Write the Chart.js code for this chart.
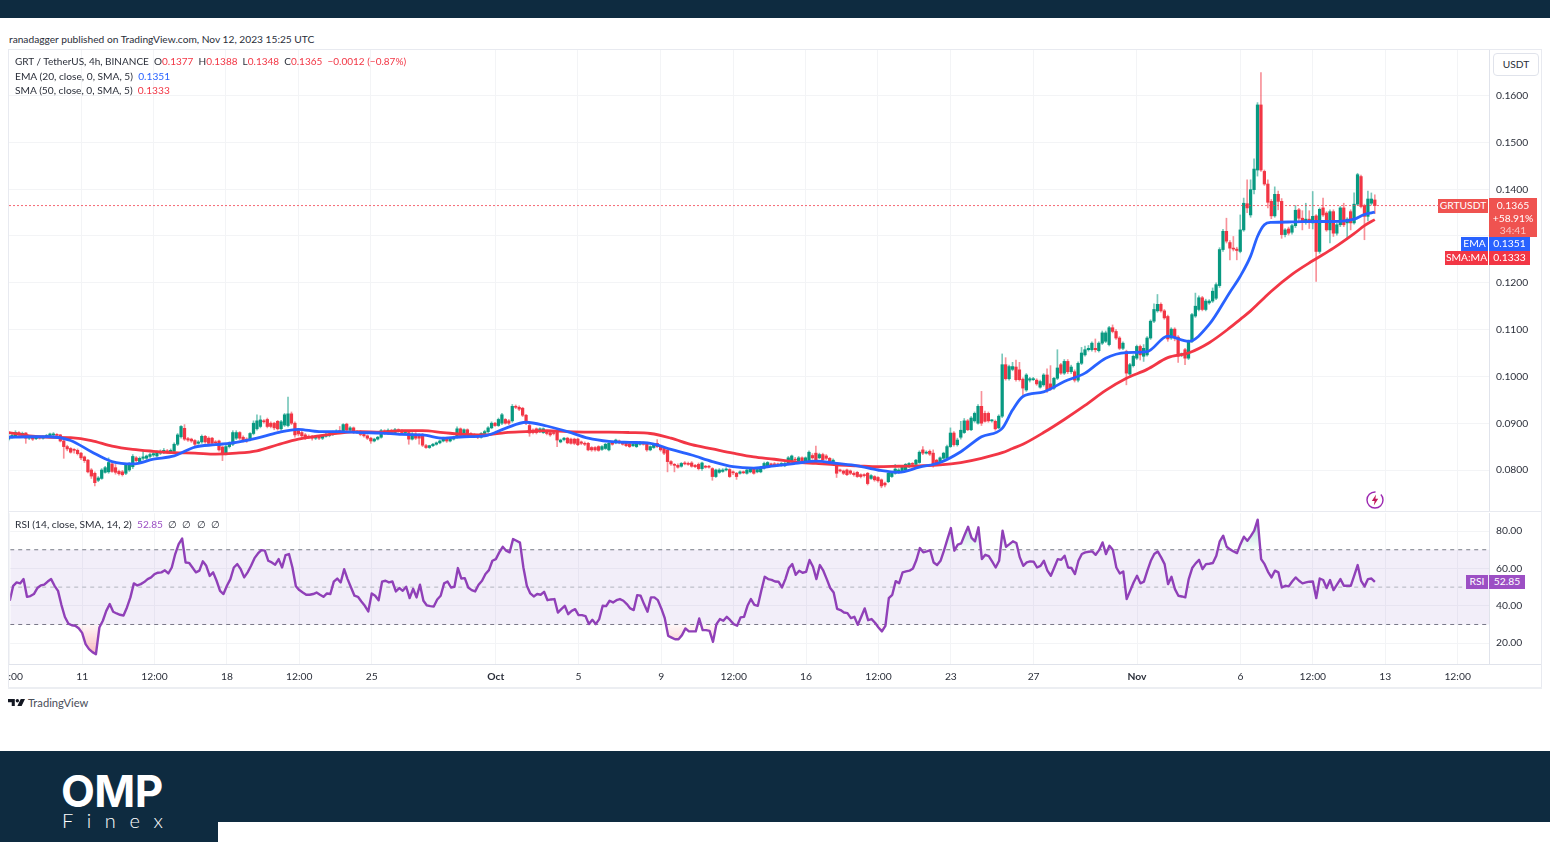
<!DOCTYPE html>
<html>
<head>
<meta charset="utf-8">
<title>GRT / TetherUS 4h</title>
<script src="https://cdn.jsdelivr.net/npm/chart.js@4"></script>
<style>
  html, body { margin: 0; padding: 0; background: #fff; }
  body { width: 1550px; height: 842px; overflow: hidden; position: relative; font-family: Lato, sans-serif; font-size: 10.2px; color: #2a2e39; }
  .abs { position: absolute; white-space: nowrap; }
  canvas { position: absolute; }
  .up { color: #f23645; }
  .tag { position: absolute; color: #fff; font-size: 10.3px; line-height: 13.5px; text-align: center; }
</style>
</head>
<body>
<div class="abs" style="left:0;top:0;width:1550px;height:18px;background:#0e2b40"></div>
<div class="abs" style="left:9px;top:32px;line-height:14px">ranadagger published on TradingView.com, Nov 12, 2023 15:25 UTC</div>

<div class="abs" style="left:8px;top:49px;width:1532px;height:638px;border:1px solid #e8eaf0"></div>
<div class="abs" style="left:9px;top:511px;width:1532px;height:1px;background:#e8eaf0"></div>
<div class="abs" style="left:9px;top:664px;width:1532px;height:1px;background:#e0e3eb"></div>
<div class="abs" style="left:8px;top:687px;width:1534px;height:2px;background:#eceef2"></div>

<canvas id="priceChart" width="1532" height="461" style="left:9px;top:50px"></canvas>
<canvas id="rsiChart" width="1532" height="176" style="left:9px;top:512px"></canvas>

<div class="abs" style="left:15px;top:54px;line-height:14px;font-size:10px">GRT / TetherUS, 4h, BINANCE &nbsp;O<span class="up">0.1377</span> &nbsp;H<span class="up">0.1388</span> &nbsp;L<span class="up">0.1348</span> &nbsp;C<span class="up">0.1365</span> &nbsp;<span class="up">−0.0012 (−0.87%)</span></div>
<div class="abs" style="left:15px;top:69px;line-height:14px">EMA (20, close, 0, SMA, 5) &nbsp;<span style="color:#2962ff">0.1351</span></div>
<div class="abs" style="left:15px;top:83px;line-height:14px">SMA (50, close, 0, SMA, 5) &nbsp;<span class="up">0.1333</span></div>
<div class="abs" style="left:15px;top:517px;line-height:14px">RSI (14, close, SMA, 14, 2) &nbsp;<span style="color:#9c4fc4">52.85</span> &nbsp;<span>∅ &nbsp;∅ &nbsp;∅ &nbsp;∅</span></div>

<div class="abs" style="left:1493px;top:53px;width:44px;height:21px;border:1px solid #e0e3eb;border-radius:4px;line-height:21px;text-align:center;background:#fff">USDT</div>

<div class="tag" style="left:1438px;top:199px;width:50px;background:#ef5350">GRTUSDT</div>
<div class="tag" style="left:1489px;top:198px;width:48px;height:39px;background:#ef5350;line-height:12.5px;padding-top:1px;box-sizing:border-box">0.1365<br>+58.91%<br><span style="color:#f9c4c4">34:41</span></div>
<div class="tag" style="left:1461px;top:237px;width:27px;background:#2962ff">EMA</div>
<div class="tag" style="left:1489px;top:237px;width:41px;background:#2962ff">0.1351</div>
<div class="tag" style="left:1445px;top:251px;width:43px;background:#f23645">SMA:MA</div>
<div class="tag" style="left:1489px;top:251px;width:41px;background:#f23645">0.1333</div>
<div class="tag" style="left:1466px;top:575px;width:22px;background:#9c4fc4">RSI</div>
<div class="tag" style="left:1489px;top:575px;width:36px;background:#9c4fc4">52.85</div>

<svg class="abs" style="left:1365px;top:490px" width="20" height="20" viewBox="0 0 20 20">
  <circle cx="10" cy="10" r="8" fill="none" stroke="#9c27b0" stroke-width="1.4" stroke-dasharray="38 6"/>
  <path d="M11 4.5 L6.8 11 H9.6 L8.8 15.5 L13.2 8.8 H10.4 Z" fill="#c2185b"/>
</svg>

<svg class="abs" style="left:8px;top:699px" width="17" height="7" viewBox="0 0 20 8">
  <path d="M0 0h8v8H4.4V3.6H0z M15 0h5l-4 8h-5z" fill="#131722"/><circle cx="11" cy="2" r="2" fill="#131722"/>
</svg>
<div class="abs" style="left:28px;top:696px;font-size:11.2px;line-height:14px;color:#4a4e59">TradingView</div>

<div class="abs" style="left:0;top:751px;width:1550px;height:71px;background:#0e2b40"></div>
<div class="abs" style="left:0;top:822px;width:218px;height:20px;background:#0e2b40"></div>
<div class="abs" style="left:61px;top:763px;font-size:44px;line-height:56px;font-weight:700;color:#fff;font-family:Inter,sans-serif;letter-spacing:-0.6px">OMP</div>
<div class="abs" style="left:62px;top:807px;font-size:20px;line-height:26px;font-weight:300;color:#fff;font-family:Lato,sans-serif;letter-spacing:13.6px">Finex</div>

<script>
// prices are in 0.0001 USDT, one entry per 4h bar starting Sep 7 12:00
const opens = [
  866,870,873,880,876,879,868,868,867,869,
  868,871,873,875,876,875,862,850,846,843,
  842,836,828,821,800,793,778,782,795,796,
  813,805,797,796,793,800,807,826,818,825,
  825,829,832,830,836,838,841,838,840,855,
  871,889,867,866,863,857,860,872,868,868,
  860,862,849,835,850,855,868,880,870,866,
  865,878,888,893,905,908,900,900,904,888,
  896,895,920,900,884,880,875,872,870,868,
  870,868,872,874,877,880,883,882,898,885,
  890,880,882,876,873,868,862,866,870,884,
  878,885,880,886,884,880,880,866,877,875,
  875,852,848,852,855,858,862,868,862,866,
  870,888,874,886,878,875,872,870,878,882,
  890,900,895,900,908,905,905,936,934,932,
  917,895,885,888,882,880,881,880,880,882,
  860,865,868,866,866,866,860,857,857,848,
  848,850,844,846,843,858,858,862,858,858,
  856,852,850,855,858,857,843,848,857,850,
  848,843,818,812,810,808,815,814,815,810,
  812,803,808,808,803,786,795,797,800,801,
  796,793,793,796,793,796,802,796,796,804,
  808,813,813,813,810,809,814,820,823,820,
  826,818,820,831,836,826,833,830,825,816,
  814,800,798,800,798,793,795,790,790,793,
  782,786,784,779,772,775,786,793,795,798,
  800,807,814,812,816,843,836,840,836,821,
  818,825,825,850,879,854,870,880,905,886,
  905,900,936,921,921,905,904,890,915,1025,
  995,1015,1020,1014,994,971,992,993,992,977,
  982,1003,984,975,996,1025,1007,1032,1010,1010,
  992,1028,1046,1057,1057,1060,1055,1071,1075,1068,
  1104,1096,1082,1060,1053,1005,1023,1039,1064,1043,
  1046,1082,1118,1140,1154,1140,1128,1082,1101,1084,
  1046,1057,1039,1075,1129,1143,1168,1143,1157,1161,
  1167,1194,1271,1310,1286,1274,1272,1267,1313,1369,
  1345,1399,1441,1580,1438,1411,1374,1343,1389,1374,
  1303,1315,1308,1322,1356,1338,1329,1336,1328,1343,
  1267,1360,1349,1313,1352,1306,1324,1360,1328,1352,
  1328,1368,1427,1365,1342,1370,1377
];
const closes = [
  872,874,880,876,878,868,868,866,869,868,
  871,874,877,877,874,862,850,845,838,842,
  835,826,820,796,787,773,783,800,805,816,
  797,795,792,790,811,812,829,820,825,828,
  830,833,835,838,838,842,839,842,855,875,
  893,866,864,862,855,860,872,860,857,857,
  858,843,833,850,857,880,880,868,863,862,
  878,900,905,907,903,893,893,890,888,903,
  918,920,900,875,877,873,868,870,868,870,
  868,872,876,874,880,883,882,897,885,890,
  880,882,876,873,868,862,866,870,884,878,
  885,880,886,884,880,883,866,877,868,868,
  853,848,852,855,858,862,868,862,866,870,
  888,874,886,878,875,872,870,878,882,890,
  900,895,908,918,900,900,936,934,930,917,
  900,879,880,880,888,888,878,875,878,864,
  864,868,858,857,857,854,857,855,843,843,
  843,842,850,855,857,855,864,858,855,852,
  850,855,858,858,855,843,850,855,850,843,
  836,818,813,810,806,814,813,812,808,807,
  803,815,806,806,786,800,800,800,802,786,
  794,786,796,794,800,803,793,801,806,814,
  816,811,811,810,814,814,826,830,821,826,
  818,826,838,826,820,833,822,825,818,821,
  793,798,793,790,793,790,786,786,788,771,
  788,779,777,766,768,793,793,802,800,807,
  812,814,812,821,838,836,838,834,812,814,
  826,836,850,879,854,864,885,905,886,911,
  921,936,900,904,905,905,888,915,1025,995,
  1021,1021,993,993,975,1003,995,995,984,989,
  1003,971,975,996,1018,1007,1032,1010,1020,992,
  1028,1050,1057,1060,1071,1057,1071,1093,1093,1104,
  1096,1082,1060,1071,1007,1025,1043,1064,1046,1060,
  1082,1118,1143,1154,1140,1125,1080,1101,1082,1043,
  1046,1039,1075,1132,1150,1168,1143,1161,1161,1182,
  1196,1271,1310,1289,1274,1272,1269,1313,1370,1360,
  1399,1443,1580,1441,1411,1372,1343,1389,1374,1303,
  1313,1306,1322,1355,1338,1329,1336,1331,1342,1267,
  1357,1345,1313,1352,1306,1324,1360,1324,1336,1328,
  1368,1431,1363,1342,1379,1379,1365
];
const highs = [
  876,878,884,882,881,880,871,870,871,871,
  873,876,879,880,878,876,864,853,848,846,
  845,838,830,823,803,796,786,803,808,826,
  816,812,800,799,814,816,833,829,828,840,
  832,836,838,841,843,846,844,845,858,878,
  895,897,870,868,865,863,875,874,871,870,
  863,864,851,853,860,884,884,882,873,869,
  880,905,918,916,908,911,903,902,906,906,
  921,956,924,903,887,884,878,875,874,874,
  873,875,879,878,883,886,893,899,900,893,
  892,884,884,878,875,870,868,872,887,886,
  888,887,889,888,886,885,884,880,880,878,
  878,855,853,857,860,864,870,870,869,872,
  892,890,888,888,880,878,875,880,885,893,
  903,902,911,921,910,908,940,939,937,934,
  919,902,888,890,890,890,884,883,883,884,
  866,870,870,868,868,868,862,860,859,850,
  850,852,852,857,859,860,866,864,860,860,
  858,857,860,861,860,859,852,857,865,852,
  850,845,820,814,813,816,818,817,818,812,
  815,817,810,810,805,802,803,803,805,803,
  798,795,798,798,802,805,804,803,808,817,
  818,815,816,815,816,817,829,832,827,829,
  828,828,841,835,851,836,836,833,827,824,
  816,802,800,802,800,796,797,792,792,795,
  790,788,786,781,774,796,796,812,803,809,
  814,816,816,823,841,850,841,843,843,823,
  828,838,853,890,882,868,904,910,908,914,
  924,940,968,926,924,908,907,918,1048,1040,
  1024,1030,1035,1030,997,1006,998,998,995,992,
  1006,1016,1023,998,1057,1028,1036,1036,1024,1014,
  1031,1062,1065,1066,1074,1080,1074,1097,1097,1107,
  1110,1100,1085,1074,1056,1028,1046,1067,1067,1068,
  1085,1121,1155,1175,1157,1143,1131,1104,1104,1087,
  1050,1060,1078,1135,1178,1172,1171,1165,1164,1189,
  1200,1275,1314,1338,1290,1299,1276,1345,1381,1420,
  1420,1465,1585,1649,1441,1420,1378,1405,1396,1380,
  1316,1319,1325,1365,1359,1354,1370,1354,1395,1346,
  1360,1381,1352,1356,1356,1327,1363,1370,1339,1356,
  1392,1434,1430,1368,1396,1392,1388
];
const lows = [
  862,868,871,874,874,857,865,863,865,866,
  866,869,871,873,872,860,825,841,836,836,
  832,822,816,794,782,766,775,780,793,793,
  795,791,789,787,790,797,803,817,815,822,
  822,826,829,828,833,835,836,835,838,852,
  868,863,861,859,852,855,857,857,854,854,
  855,840,820,832,847,852,865,865,860,859,
  862,875,885,890,900,890,890,886,885,885,
  893,892,897,870,873,869,865,867,864,865,
  865,865,870,871,874,877,879,879,882,882,
  878,878,873,870,865,857,860,864,868,876,
  876,878,878,881,878,878,855,864,865,855,
  850,846,846,850,853,856,860,859,860,864,
  868,872,872,876,873,870,867,868,876,880,
  888,893,893,897,898,897,902,931,927,914,
  897,872,877,877,880,878,875,872,875,850,
  858,862,856,855,854,852,854,852,841,840,
  840,840,842,844,841,853,856,856,853,850,
  848,850,848,853,853,840,841,846,848,840,
  833,796,810,796,804,806,811,810,806,805,
  800,799,804,804,778,784,793,795,798,784,
  790,780,791,792,791,794,791,794,794,802,
  806,809,809,808,808,807,812,817,818,818,
  816,816,818,823,817,824,820,822,816,814,
  784,796,790,788,790,787,784,783,785,768,
  780,776,774,762,764,773,784,791,793,796,
  798,805,810,810,814,833,834,831,806,812,
  816,823,823,848,851,851,866,878,884,884,
  902,898,895,902,902,902,885,888,912,992,
  992,1012,990,990,960,968,988,991,981,975,
  979,966,970,972,993,1004,1004,1006,1006,988,
  988,1025,1043,1054,1054,1052,1052,1068,1072,1065,
  1093,1079,1057,1057,982,1002,1020,1036,1035,1032,
  1043,1079,1115,1137,1137,1122,1075,1079,1076,1030,
  1042,1025,1036,1072,1126,1140,1140,1140,1154,1158,
  1164,1190,1267,1285,1249,1268,1249,1264,1310,1350,
  1340,1390,1428,1438,1408,1360,1337,1340,1356,1295,
  1298,1302,1304,1318,1330,1313,1325,1316,1315,1203,
  1263,1342,1310,1285,1299,1302,1320,1320,1292,1313,
  1325,1365,1360,1292,1332,1366,1348
];

// moving averages read at these bars
const maBars = [
  0,6,12,18,24,30,36,42,48,54,60,66,72,78,84,90,96,102,108,114,120,126,132,138,144,
  150,156,162,168,174,180,186,192,198,204,210,216,222,228,234,240,246,252,258,264,270,276,282,288,
  291,294,300,306,312,318,324,330,336,342,348,354,357,360,362,364,366,372,378,384,390,393,396
];
const emaValues = [
  870,871,871,863,839,818,813,823,830,849,854,859,868,880,887,882,882,880,879,876,875,868,871,873,889,
  902,894,882,868,861,859,857,844,832,818,807,804,809,814,819,814,809,800,795,806,816,839,871,889,
  928,957,967,989,1007,1039,1051,1053,1086,1075,1111,1180,1214,1257,1299,1324,1329,1330,1331,1331,1336,1346,1351
];
const smaValues = [
  880,873,870,869,863,851,844,840,837,836,834,836,841,854,866,873,879,882,881,884,884,880,876,875,880,
  882,884,882,881,881,880,878,868,854,845,836,828,823,817,814,811,809,807,808,809,811,816,825,837,
  846,855,880,908,938,970,996,1015,1040,1050,1072,1104,1122,1140,1154,1168,1182,1218,1247,1274,1305,1322,1335
];
const lastPrice = 1365;

// one RSI reading per bar
const rsiValues = [
  42.7,50.7,52.5,52,54.3,44.8,45.2,46.3,49.5,50.9,
  51.3,53,54.3,50.7,48,40.4,34,30.5,29.6,29.3,
  28,25.5,19.5,16.8,15.2,14.1,28.4,32,37.3,40.9,
  36.8,35.9,35.2,34.8,39.1,44.5,52,50.9,51.6,52.7,
  54.3,55.2,57,57.7,57.9,59,57.3,60.5,67.7,73,
  76,63.2,63,60.5,57.9,58.8,63.8,61.4,56,57.9,
  53.4,48,46.3,50.7,54.3,60.5,62.3,59.6,55.2,57.9,
  61.4,65.5,68,69.8,69.5,64.1,63.2,62,65,60.5,
  67.1,67.7,60.5,50.5,48.4,47.1,45.9,45.9,46.3,47.1,
  45.9,44.8,46.6,46.3,52.9,54.6,52.5,59.6,54.3,49.8,
  45.4,44.8,42.3,40,37,46.6,45.4,43,52.9,53.4,
  52.5,53,47.7,49.5,48,50.2,44.1,49.1,44.5,51.3,
  42.7,40.2,39.8,39.6,43.4,45.4,52,53,49.8,50.2,
  60.2,54.6,54.8,49.8,48.4,47.7,51.3,53.4,57,59.1,
  64.1,65,68.6,71.6,69.5,68.6,75.7,74.8,73.8,60.5,
  50.7,46.6,45,46.3,45.9,47.5,43,43.4,43.6,36.4,
  38.2,40,35.5,37.3,38.2,35,35,34.5,30.2,32.5,
  30.2,32.9,40,39.8,42.7,41.8,43,43.6,42.7,40.9,
  38.6,37.7,45.7,45.4,40.9,36.8,44.5,44.5,43,38.6,
  33.4,23.9,23,22.1,22.1,24.3,27.9,26.3,26.3,26.3,
  33.2,27,27,26.6,20.7,30.2,32.9,32,34.1,32.3,
  30.2,29.3,33.8,34.1,40,43.6,40.5,40,48,55.5,
  54.3,53.9,53,52.9,49.8,54.3,60.2,62.3,56.6,58.8,
  57.7,58.2,64.5,60.9,54.3,61.8,58.8,54.3,49.5,47.1,
  38.4,37.7,36.4,36.1,33.4,34.1,29.8,34.1,38.6,32.3,
  32.9,30.9,28.4,26.3,29.3,44.1,45.9,53.2,52.1,57.9,
  58.4,58.8,60,64.5,70.9,68.6,69.1,69.8,63.2,61.8,
  64.1,69.5,75.7,81.6,69.5,72.7,73.4,78,82.3,76.3,
  74.5,82,65,67.3,66.6,63.6,60.5,64.1,80.2,71.6,
  73,74.5,73.6,65.9,61.4,63.2,63.8,63.6,60.5,61.4,
  64.1,58.8,56.1,60.5,65,64.6,66.8,60.5,60.2,57,
  64.1,67.7,68.6,68.9,69.1,67.3,69.8,73.9,67.7,72.1,
  69.8,60.5,57.3,58.4,43.6,48,52.5,56.1,52,52.9,
  58.8,64.1,67.7,69.1,65.9,62.3,51.6,55.5,48.9,45.4,
  45,44.5,54.3,60.2,62.7,64.6,59.6,62.3,62.5,62.9,
  66.8,74.5,77.5,71.6,70.2,69.1,68.2,73,77,74.8,
  77.3,80.2,86.1,65,62.3,58.2,55.2,58.8,57.9,49.8,
  50.7,50.4,53,55.2,53.4,52,52.5,52.9,53,44.1,
  54.6,53.8,49.5,53.8,48.4,51.3,54.3,50.7,50.7,50.7,
  56.1,61.8,53.4,50.4,54.3,54.6,52.85
];

const xTickBars = [0,21,42,63,84,105,141,165,189,210,231,252,273,297,327,357,378,399,420];
const xTickLabels = ['12:00','11','12:00','18','12:00','25','Oct','5','9','12:00','16','12:00','23','27','Nov','6','12:00','13','12:00'];
const priceTicks = [800,900,1000,1100,1200,1300,1400,1500,1600];
const rsiTicks = [20,40,60,80];

const theme = {
    up: '#089981',
    down: '#f23645',
    upWick: 'rgba(8,153,129,0.55)',
    downWick: 'rgba(242,54,69,0.55)',
    ema: '#2962ff',
    sma: '#f23645',
    rsi: '#9040b8',
    grid: '#f3f4f6',
    axis: '#e0e3eb',
    text: '#2a2e39'
};

// bars 0.13 and 429.1 land on the panel edges
const xMin = 0.13;
const xMax = 429.1;
const tickFont = { family: 'Lato, sans-serif', size: 10.3 };

const barIndex = opens.map((_, i) => i);
const isUp = barIndex.map(i => closes[i] >= opens[i]);

const xAxis = (height, showLabels) => ({
    type: 'linear',
    min: xMin,
    max: xMax,
    offset: false,
    grid: { color: theme.grid, offset: false, drawTicks: false },
    border: { display: false },
    ticks: {
        display: showLabels,
        autoSkip: false,
        maxRotation: 0,
        padding: 6,
        color: theme.text,
        font: c => ({ ...tickFont, weight: (xTickLabels[c.index] === 'Oct' || xTickLabels[c.index] === 'Nov') ? 'bold' : 'normal' }),
        callback: (v, i) => xTickLabels[i]
    },
    afterBuildTicks: s => { s.ticks = xTickBars.map(v => ({ value: v })); },
    afterFit: s => { s.height = height; s.paddingLeft = 0; s.paddingRight = 0; }
});

const yAxis = (min, max, ticks, format) => ({
    position: 'right',
    min: min,
    max: max,
    grid: { color: theme.grid, drawTicks: false },
    border: { display: true, color: theme.axis },
    ticks: { padding: 7, color: theme.text, font: tickFont, callback: format },
    afterBuildTicks: s => { s.ticks = ticks.map(v => ({ value: v })); },
    afterFit: s => { s.width = 52; s.paddingTop = 0; s.paddingBottom = 0; }
});

const baseOptions = {
    responsive: false,
    animation: false,
    events: [],
    layout: { padding: 0 },
    plugins: { legend: { display: false }, tooltip: { enabled: false } }
};

new Chart(document.getElementById('priceChart'), {
    type: 'bar',
    data: {
        datasets: [
            {
                data: barIndex.map(i => ({ x: i, y: [lows[i], highs[i]] })),
                backgroundColor: isUp.map(u => u ? theme.upWick : theme.downWick),
                barThickness: 1,
                grouped: false,
                order: 5
            },
            {
                data: barIndex.map(i => ({ x: i, y: [opens[i], closes[i]] })),
                backgroundColor: isUp.map(u => u ? theme.up : theme.down),
                barThickness: 2.6,
                minBarLength: 1,
                grouped: false,
                order: 4
            },
            {
                type: 'line',
                data: [{ x: xMin, y: lastPrice }, { x: xMax, y: lastPrice }],
                borderColor: 'rgba(242,54,69,0.75)',
                borderWidth: 1,
                borderDash: [2, 2],
                pointRadius: 0,
                order: 3
            },
            {
                type: 'line',
                data: maBars.map((b, i) => ({ x: b, y: smaValues[i] })),
                borderColor: theme.sma,
                borderWidth: 2.8,
                cubicInterpolationMode: 'monotone',
                pointRadius: 0,
                order: 2
            },
            {
                type: 'line',
                data: maBars.map((b, i) => ({ x: b, y: emaValues[i] })),
                borderColor: theme.ema,
                borderWidth: 2.8,
                cubicInterpolationMode: 'monotone',
                pointRadius: 0,
                order: 1
            }
        ]
    },
    options: {
        ...baseOptions,
        scales: {
            x: xAxis(0, false),
            y: yAxis(712.4, 1697.4, priceTicks, v => (v / 10000).toFixed(4))
        }
    }
});

const rsiPoints = barIndex.map(i => ({ x: i, y: rsiValues[i] }));
const level = v => [{ x: xMin, y: v }, { x: xMax, y: v }];
const levelLine = (v, color, extra) => ({
    type: 'line',
    data: level(v),
    borderColor: color,
    borderWidth: 1,
    borderDash: [4, 4],
    pointRadius: 0,
    ...extra
});

const rsiChart = new Chart(document.getElementById('rsiChart'), {
    type: 'line',
    data: {
        datasets: [
            levelLine(70, '#787b86', { fill: '+1', backgroundColor: 'rgba(126,87,194,0.1)', order: 6 }),
            levelLine(30, '#787b86', { order: 6 }),
            levelLine(50, '#b2b5be', { order: 5 }),
            { data: rsiPoints, borderWidth: 0, pointRadius: 0, fill: { target: { value: 30 }, above: 'rgba(0,0,0,0)', below: 'rgba(242,54,69,0.2)' }, order: 3 },
            { data: rsiPoints, borderWidth: 0, pointRadius: 0, fill: { target: { value: 70 }, above: 'rgba(8,153,129,0.2)', below: 'rgba(0,0,0,0)' }, order: 2 },
            { data: rsiPoints, borderColor: theme.rsi, borderWidth: 2.4, borderJoinStyle: 'round', pointRadius: 0, order: 1 }
        ]
    },
    options: {
        ...baseOptions,
        scales: {
            x: xAxis(24, true),
            y: yAxis(8.85, 89.56, rsiTicks, v => v.toFixed(2))
        }
    }
});

// zone fills fade toward the level lines
const ry = rsiChart.scales.y;
const ctx = rsiChart.ctx;
const lowFade = ctx.createLinearGradient(0, ry.getPixelForValue(30), 0, ry.getPixelForValue(14));
lowFade.addColorStop(0, 'rgba(242,54,69,0.03)');
lowFade.addColorStop(1, 'rgba(242,54,69,0.35)');
const highFade = ctx.createLinearGradient(0, ry.getPixelForValue(70), 0, ry.getPixelForValue(86));
highFade.addColorStop(0, 'rgba(8,153,129,0.03)');
highFade.addColorStop(1, 'rgba(8,153,129,0.35)');
rsiChart.data.datasets[3].fill.below = lowFade;
rsiChart.data.datasets[4].fill.above = highFade;
rsiChart.update('none');
</script>
</body>
</html>
